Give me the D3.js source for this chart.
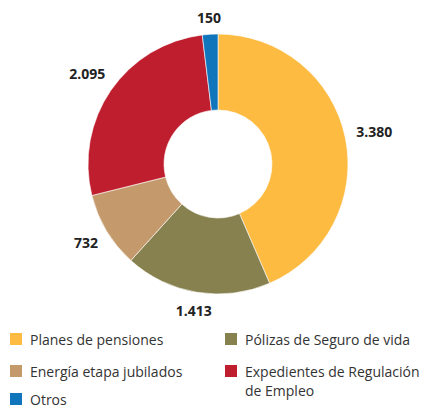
<!DOCTYPE html>
<html>
<head>
<meta charset="utf-8">
<script src="https://cdn.jsdelivr.net/npm/d3@7"></script>
<style>
  body { margin: 0; background: #fff; }
  svg { display: block; font-family: "Open Sans", "Noto Sans", sans-serif; }
</style>
</head>
<body>
<div id="chart"></div>
<script>
// donut read clockwise from 12 o'clock
var categories = ["Planes de pensiones", "Pólizas de Seguro de vida", "Energía etapa jubilados", "Expedientes de Regulación de Empleo", "Otros"];
var values = [3380, 1413, 732, 2095, 150];
var valueLabels = ["3.380", "1.413", "732", "2.095", "150"];
var colors = ["#FDBB41", "#86814E", "#C49A6C", "#BE1E2D", "#1075BB"];
// legend lines (grid order: left col, right col)
var legendLines = [["Planes de pensiones"], ["Pólizas de Seguro de vida"], ["Energía etapa jubilados"], ["Expedientes de Regulación", "de Empleo"], ["Otros"]];

var W = 429, H = 410,
    cx = 218, cy = 164,
    outerR = 130, innerR = 54,
    labelR = 141;

var svg = d3.select("#chart").append("svg")
    .attr("width", W)
    .attr("height", H);

var pie = d3.pie().sort(null).value(function(d){ return d; });
var arcs = pie(values);

var arc = d3.arc().innerRadius(innerR).outerRadius(outerR);

var g = svg.append("g").attr("transform", "translate(" + cx + "," + cy + ")");

g.selectAll("path")
    .data(arcs)
  .enter().append("path")
    .attr("d", arc)
    .attr("fill", function(d, i){ return colors[i]; })
    .attr("stroke", "#fff")
    .attr("stroke-width", 0.6);

// value labels, pushed out so the text box sits just outside the ring
var labels = g.selectAll("text.val")
    .data(arcs)
  .enter().append("text")
    .attr("class", "val")
    .attr("text-anchor", "middle")
    .style("font-size", "14px")
    .style("font-weight", "bold")
    .style("fill", "#222")
    .text(function(d, i){ return valueLabels[i]; });

labels.each(function(d){
    var bb = this.getBBox(),
        a = (d.startAngle + d.endAngle) / 2,
        s = Math.sin(a), c = -Math.cos(a),
        r = labelR + (bb.width / 2) * Math.abs(s) + 5 * Math.abs(c);
    d3.select(this)
        .attr("x", r * s)
        .attr("y", r * c + 5);
});

// legend
var colX = [10, 225], rowY = [333, 365, 393];
var leg = svg.selectAll("g.leg")
    .data(categories)
  .enter().append("g")
    .attr("class", "leg")
    .attr("transform", function(d, i){
        return "translate(" + colX[i % 2] + "," + rowY[Math.floor(i / 2)] + ")";
    });

leg.append("rect")
    .attr("width", 12)
    .attr("height", 12)
    .attr("fill", function(d, i){ return colors[i]; });

leg.append("text")
    .attr("x", 20)
    .attr("y", 12)
    .style("font-size", "14px")
    .style("fill", "#333")
    .selectAll("tspan")
    .data(function(d, i){ return legendLines[i]; })
  .enter().append("tspan")
    .attr("x", 20)
    .attr("dy", function(d, j){ return j ? 19 : 0; })
    .text(function(d){ return d; });
</script>
</body>
</html>
